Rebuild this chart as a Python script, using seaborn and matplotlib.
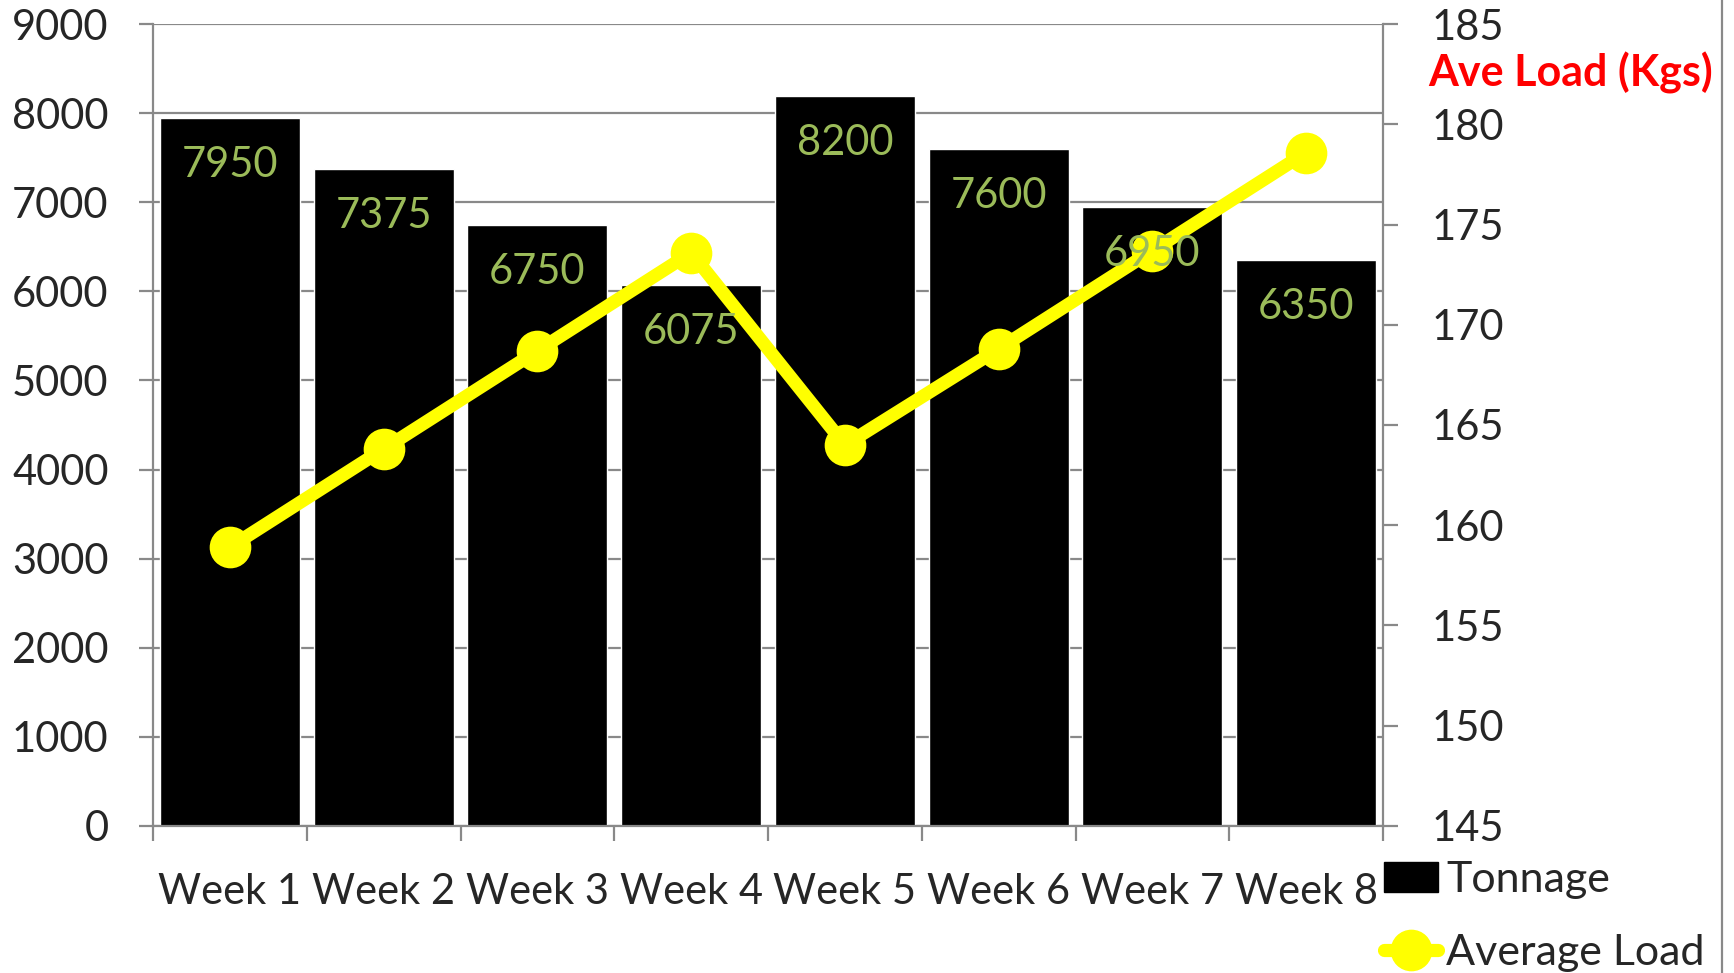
import numpy as np
import matplotlib
matplotlib.use("Agg")
import matplotlib.pyplot as plt
from matplotlib.lines import Line2D
from matplotlib.patches import Patch
import seaborn as sns

weeks = ["Week 1", "Week 2", "Week 3", "Week 4", "Week 5", "Week 6", "Week 7", "Week 8"]
tonnage = [7950, 7375, 6750, 6075, 8200, 7600, 6950, 6350]
ave_load = [158.9, 163.8, 168.7, 173.6, 164.0, 168.8, 173.7, 178.6]

sns.set_style("white")
plt.rcParams['font.family'] = ['Lato', 'DejaVu Sans']

grey = "#898989"
label_green = "#9BBB59"
fs = 30

fig = plt.figure(figsize=(17.34, 9.73), dpi=100)
ax = fig.add_axes([153 / 1734, 1 - 825.7 / 973, (1383 - 153) / 1734, (825.7 - 24.3) / 973])

# tonnage bars
sns.barplot(x=weeks, y=tonnage, color="black", saturation=1, width=0.91, ax=ax, zorder=2)
ax.set_xlim(-0.5, 7.5)
ax.set_ylim(0, 9000)
ax.set_yticks(np.arange(0, 9001, 1000))
ax.yaxis.grid(True, color=grey, linewidth=1.6, zorder=0)
ax.set_axisbelow(True)
ax.set_xlabel("")
ax.set_ylabel("")
for side in ["left", "bottom", "right"]:
    ax.spines[side].set_color(grey)
    ax.spines[side].set_linewidth(1.6)
ax.spines["top"].set_visible(False)
ax.tick_params(axis="y", which="major", length=10, width=1.6, color=grey, pad=22, labelsize=fs, left=True)
ax.set_xticks(np.arange(-0.5, 8, 1), minor=True)
ax.tick_params(axis="x", which="minor", length=11, width=1.6, color=grey, bottom=True)
ax.tick_params(axis="x", which="major", length=0, pad=34, labelsize=fs)

# average load line
ax2 = ax.twinx()
sns.lineplot(x=np.arange(len(weeks)), y=ave_load, ax=ax2, color="#FFFF00", linewidth=9.5,
             marker="o", markersize=30, markeredgewidth=0, zorder=3)
ax2.set_ylim(145, 185)
ax2.set_yticks(np.arange(145, 186, 5))
ax2.set_xlim(-0.5, 7.5)
ax2.set_ylabel("")
for side in ["left", "bottom", "right", "top"]:
    ax2.spines[side].set_visible(False)
ax2.tick_params(axis="y", length=11, width=1.6, color=grey, pad=24, labelsize=fs, right=True)

# bar value labels, drawn over the line
for i, v in enumerate(tonnage):
    ax2.annotate(str(v), xy=(i, v), xycoords=ax.transData, xytext=(0, -34),
                 textcoords="offset points", ha="center", va="center",
                 fontsize=fs, color=label_green, zorder=5)

fig.text(1428 / 1734, 1 - 73 / 973, "Ave Load (Kgs)", color="red", fontsize=31,
         fontweight="bold", ha="left", va="center")

handles = [Patch(facecolor="black", edgecolor="black"),
           Line2D([0], [0], color="#FFFF00", linewidth=9.5, marker="o", markersize=30, markeredgewidth=0)]
fig.legend(handles, ["Tonnage", "Average Load"], loc="upper left",
           bbox_to_anchor=(1384 / 1734, 1 - 861 / 973), frameon=False, fontsize=31,
           handlelength=1.25, handleheight=0.7, handletextpad=0.2, labelspacing=0.82,
           borderaxespad=0, borderpad=0)

fig.add_artist(Line2D([1722 / 1734, 1722 / 1734], [0, 1], transform=fig.transFigure,
                      color=grey, linewidth=1.6))

fig.savefig("out.png", dpi=100)
